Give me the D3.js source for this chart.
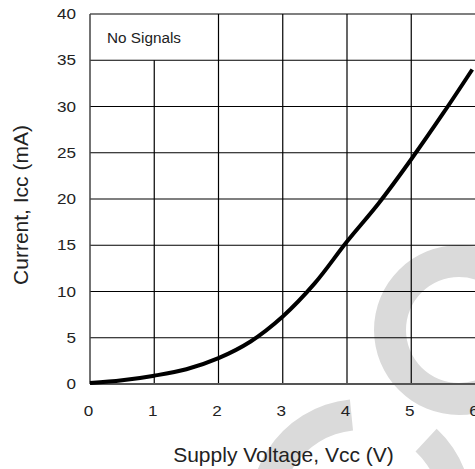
<!DOCTYPE html>
<html>
<head>
<meta charset="utf-8">
<script src="https://cdn.jsdelivr.net/npm/d3@7"></script>
<style>
  body { margin: 0; background: #fff; }
  svg { display: block; font-family: "Liberation Sans", Arial, sans-serif; }
</style>
</head>
<body>
<div id="chart"></div>
<script>
// supply current vs supply voltage, no signals
var voltage = [0, 0.5, 1, 1.5, 2, 2.5, 3, 3.5, 4, 4.5, 5, 5.5, 5.95];
var current = [0.1, 0.4, 0.9, 1.6, 2.8, 4.6, 7.3, 10.9, 15.4, 19.6, 24.3, 29.3, 34.0];

var xTicks = [0, 1, 2, 3, 4, 5, 6];
var yTicks = [0, 5, 10, 15, 20, 25, 30, 35, 40];

var W = 475, H = 469;

var svg = d3.select("#chart").append("svg")
  .attr("width", W)
  .attr("height", H);

var x = d3.scaleLinear().domain([0, 6]).range([90, 475.5]);
var y = d3.scaleLinear().domain([0, 40]).range([384, 14]);

// faint watermark rings behind the chart
var arc = d3.arc();
svg.append("path")
  .attr("transform", "translate(459,330)")
  .attr("d", arc({innerRadius: 53, outerRadius: 85, startAngle: 0, endAngle: 2 * Math.PI}))
  .attr("fill", "#dadada");
svg.append("path")
  .attr("transform", "translate(361,510)")
  .attr("d", arc({innerRadius: 80, outerRadius: 111, startAngle: 0.75, endAngle: 2 * Math.PI - 0.1}))
  .attr("fill", "#dadada");

// grid
var grid = svg.append("g").attr("stroke", "#000").attr("stroke-width", 1.2);

grid.selectAll("line.h")
  .data(yTicks.slice(1))
  .enter().append("line")
  .attr("x1", x(0)).attr("x2", x(6))
  .attr("y1", function(d) { return y(d); })
  .attr("y2", function(d) { return y(d); });

grid.selectAll("line.v")
  .data(xTicks.slice(1, 6))
  .enter().append("line")
  .attr("x1", function(d) { return x(d); })
  .attr("x2", function(d) { return x(d); })
  .attr("y1", y(0))
  .attr("y2", function(d) { return d == 1 ? y(35) : y(40); });

// axis lines
svg.append("line")
  .attr("x1", x(0)).attr("x2", x(0))
  .attr("y1", y(0)).attr("y2", y(40))
  .attr("stroke", "#444").attr("stroke-width", 1.5);
svg.append("line")
  .attr("x1", x(0)).attr("x2", x(6))
  .attr("y1", y(0)).attr("y2", y(0))
  .attr("stroke", "#555").attr("stroke-width", 2);

// tick labels (the source font is a bit wide, so stretch them)
svg.append("g")
  .selectAll("text")
  .data(yTicks)
  .enter().append("text")
  .attr("transform", function(d) { return "translate(76," + (y(d) + 5) + ") scale(1.18,1)"; })
  .attr("text-anchor", "end")
  .attr("font-size", 14.5)
  .attr("fill", "#222")
  .text(function(d) { return d; });

svg.append("g")
  .selectAll("text")
  .data(xTicks)
  .enter().append("text")
  .attr("transform", function(d) { return "translate(" + (x(d) - 1.5) + ",416) scale(1.18,1)"; })
  .attr("text-anchor", "middle")
  .attr("font-size", 14.5)
  .attr("fill", "#222")
  .text(function(d) { return d; });

// annotation
svg.append("text")
  .attr("x", 107)
  .attr("y", 43)
  .attr("font-size", 15.3)
  .attr("fill", "#222")
  .text("No Signals");

// axis titles
svg.append("text")
  .attr("x", 283.5)
  .attr("y", 462)
  .attr("text-anchor", "middle")
  .attr("font-size", 21)
  .attr("fill", "#222")
  .text("Supply Voltage, Vcc (V)");

svg.append("text")
  .attr("transform", "translate(28,205) rotate(-90)")
  .attr("text-anchor", "middle")
  .attr("font-size", 21)
  .attr("fill", "#222")
  .text("Current, Icc (mA)");

// curve
var line = d3.line()
  .x(function(d, i) { return x(voltage[i]); })
  .y(function(d, i) { return y(current[i]); })
  .curve(d3.curveCatmullRom.alpha(0.5));

svg.append("path")
  .datum(current)
  .attr("d", line)
  .attr("fill", "none")
  .attr("stroke", "#000")
  .attr("stroke-width", 4);
</script>
</body>
</html>
